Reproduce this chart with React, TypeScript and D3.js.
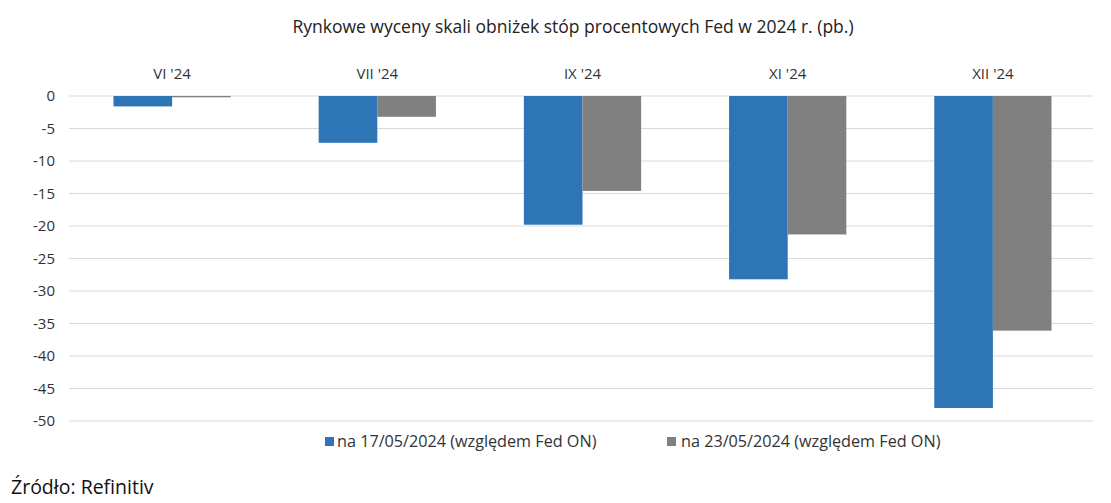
import React from "react";
import * as d3 from "d3";

const categories = ["VI '24", "VII '24", "IX '24", "XI '24", "XII '24"];
const seriesNames = ["na 17/05/2024 (względem Fed ON)", "na 23/05/2024 (względem Fed ON)"];
const series1 = [-1.6, -7.2, -19.8, -28.2, -48.0];
const series2 = [-0.2, -3.2, -14.6, -21.3, -36.1];
const yTicks = [0, -5, -10, -15, -20, -25, -30, -35, -40, -45, -50];
const colors = ["#2E75B6", "#808080"];
const title = "Rynkowe wyceny skali obniżek stóp procentowych Fed w 2024 r. (pb.)";
const source = "Źródło: Refinitiv";

export default function App() {
  const W = 1111, H = 503;
  const gridLeft = 69, gridRight = 1093;
  const x = d3.scaleBand().domain(categories).range([69.5, 1095.5]).paddingInner(0).paddingOuter(0);
  const y = d3.scaleLinear().domain([0, -50]).range([96, 421]);
  const bw = x.bandwidth();
  const barW = bw / 3.5;
  const xs = d3.scaleBand().domain(["0", "1"]).range([0, barW * 2]);
  const all = [series1, series2];
  const font = "'Open Sans', 'Noto Sans', sans-serif";
  return (
    <svg width={W} height={H} style={{ position: "absolute", left: 0, top: 0, background: "#fff" }} fontFamily={font}>
      <text x={573} y={33} textAnchor="middle" fontSize={17.5} fill="#222">{title}</text>
      {yTicks.map((t) => (
        <g key={t}>
          <line x1={gridLeft} x2={gridRight} y1={y(t)} y2={y(t)} stroke="#d9d9d9" strokeWidth={1} />
          <text x={55} y={y(t)} dy="0.35em" textAnchor="end" fontSize={15} fill="#333">{t}</text>
        </g>
      ))}
      {categories.map((c) => (
        <text key={c} x={(x(c) as number) + bw / 2} y={79} textAnchor="middle" fontSize={15} fill="#333">{c}</text>
      ))}
      {all.map((s, si) =>
        s.map((v, i) => {
          const cx = (x(categories[i]) as number) + bw / 2 - barW;
          return (
            <rect key={si + "-" + i} x={cx + (xs(String(si)) as number)} y={y(0)} width={xs.bandwidth()}
              height={y(v) - y(0)} fill={colors[si]} />
          );
        })
      )}
      {[
        { sx: 325, tx: 337 },
        { sx: 667, tx: 681 },
      ].map((p, i) => (
        <g key={i}>
          <rect x={p.sx} y={437} width={9} height={9} fill={colors[i]} />
          <text x={p.tx} y={447} fontSize={16.2} fill="#333">{seriesNames[i]}</text>
        </g>
      ))}
      <text x={11} y={494} fontSize={19.5} fill="#111">{source}</text>
    </svg>
  );
}
